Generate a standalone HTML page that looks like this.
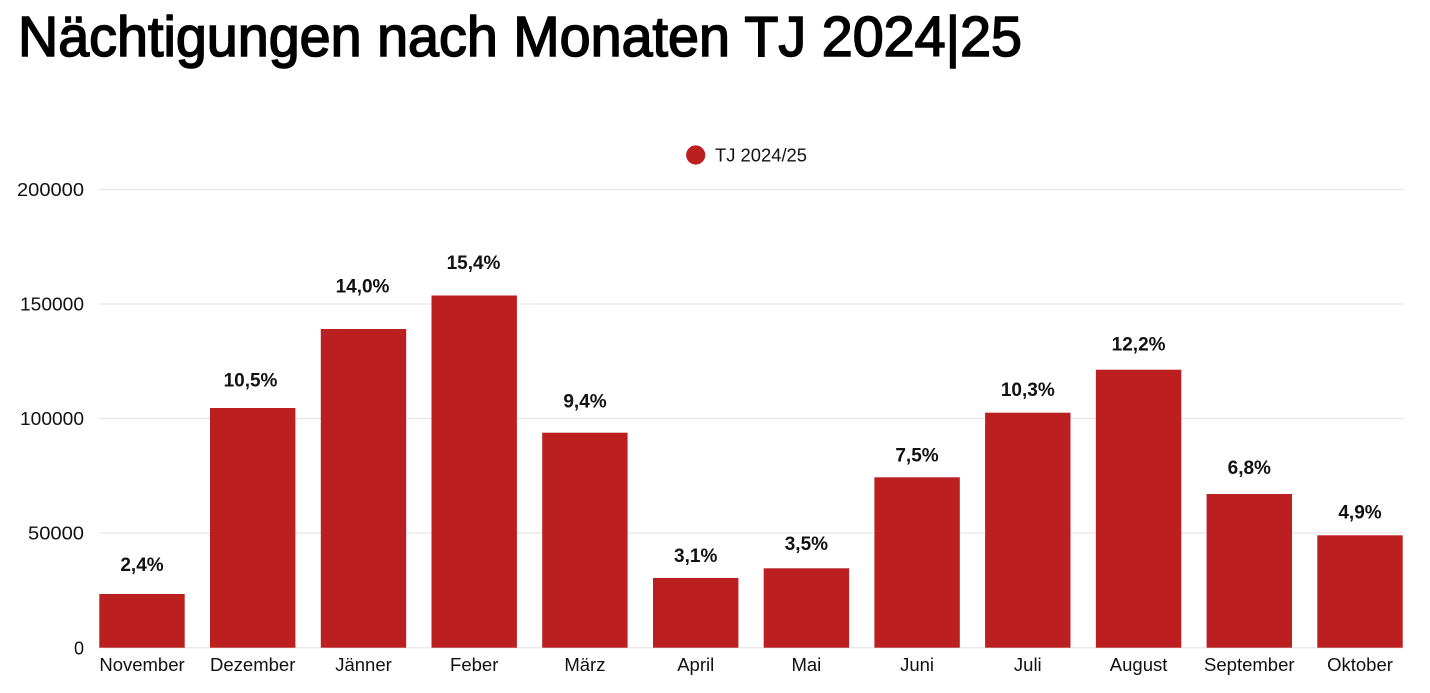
<!DOCTYPE html>
<html>
<head>
<meta charset="utf-8">
<style>
html,body{margin:0;padding:0;background:#fff;}
svg{display:block;}
text{font-family:"Liberation Sans",sans-serif;fill:#111;}
</style>
</head>
<body>
<svg width="1430" height="693" viewBox="0 0 1430 693" xmlns="http://www.w3.org/2000/svg">
<rect x="0" y="0" width="1430" height="693" fill="#fff"/>
<text x="18" y="56" font-size="57" font-weight="400" textLength="1004" lengthAdjust="spacingAndGlyphs" style="fill:#000;stroke:#000;stroke-width:1.6px">Nächtigungen nach Monaten TJ 2024|25</text>

<!-- legend -->
<circle cx="695.7" cy="155" r="9.6" fill="#bb1f1f"/>
<text x="715" y="161.7" font-size="18" textLength="92" lengthAdjust="spacingAndGlyphs">TJ 2024/25</text>

<!-- gridlines -->
<g stroke="#e6e6e6" stroke-width="1.2">
<line x1="99" y1="189.5" x2="1404" y2="189.5"/>
<line x1="99" y1="304" x2="1404" y2="304"/>
<line x1="99" y1="418.5" x2="1404" y2="418.5"/>
<line x1="99" y1="533" x2="1404" y2="533"/>
<line x1="99" y1="647.7" x2="1404" y2="647.7"/>
</g>

<!-- y labels -->
<g font-size="18" text-anchor="end">
<text x="84" y="196" textLength="67" lengthAdjust="spacingAndGlyphs">200000</text>
<text x="84" y="310.5" textLength="64" lengthAdjust="spacingAndGlyphs">150000</text>
<text x="84" y="425" textLength="64" lengthAdjust="spacingAndGlyphs">100000</text>
<text x="84" y="539.5" textLength="56" lengthAdjust="spacingAndGlyphs">50000</text>
<text x="84" y="654.5">0</text>
</g>

<!-- bars -->
<g fill="#bb1f1f">
<rect x="99.3" y="594" width="85.4" height="53.7"/>
<rect x="210" y="408" width="85.4" height="239.7"/>
<rect x="320.8" y="329" width="85.4" height="318.7"/>
<rect x="431.5" y="295.5" width="85.4" height="352.2"/>
<rect x="542.2" y="432.7" width="85.4" height="215"/>
<rect x="653" y="578" width="85.4" height="69.7"/>
<rect x="763.7" y="568.3" width="85.4" height="79.4"/>
<rect x="874.4" y="477.3" width="85.4" height="170.4"/>
<rect x="985.1" y="412.7" width="85.4" height="235"/>
<rect x="1095.9" y="369.7" width="85.4" height="278"/>
<rect x="1206.6" y="494" width="85.4" height="153.7"/>
<rect x="1317.3" y="535.3" width="85.4" height="112.4"/>
</g>

<!-- value labels -->
<g font-size="19" font-weight="700" text-anchor="middle" style="fill:#000">
<text x="142" y="571">2,4%</text>
<text x="250.5" y="386.5">10,5%</text>
<text x="362.5" y="292.5">14,0%</text>
<text x="473.5" y="269">15,4%</text>
<text x="585" y="407.5">9,4%</text>
<text x="695.7" y="562">3,1%</text>
<text x="806.4" y="550">3,5%</text>
<text x="917" y="461.5">7,5%</text>
<text x="1027.8" y="396">10,3%</text>
<text x="1138.6" y="350.5">12,2%</text>
<text x="1249.3" y="474">6,8%</text>
<text x="1360" y="518.5">4,9%</text>
</g>

<!-- x labels -->
<g font-size="18.5" text-anchor="middle">
<text x="142" y="671">November</text>
<text x="252.7" y="671">Dezember</text>
<text x="363.5" y="671">Jänner</text>
<text x="474.2" y="671">Feber</text>
<text x="584.9" y="671">März</text>
<text x="695.7" y="671">April</text>
<text x="806.4" y="671">Mai</text>
<text x="917.1" y="671">Juni</text>
<text x="1027.8" y="671">Juli</text>
<text x="1138.6" y="671">August</text>
<text x="1249.3" y="671">September</text>
<text x="1360" y="671">Oktober</text>
</g>
</svg>
</body>
</html>
